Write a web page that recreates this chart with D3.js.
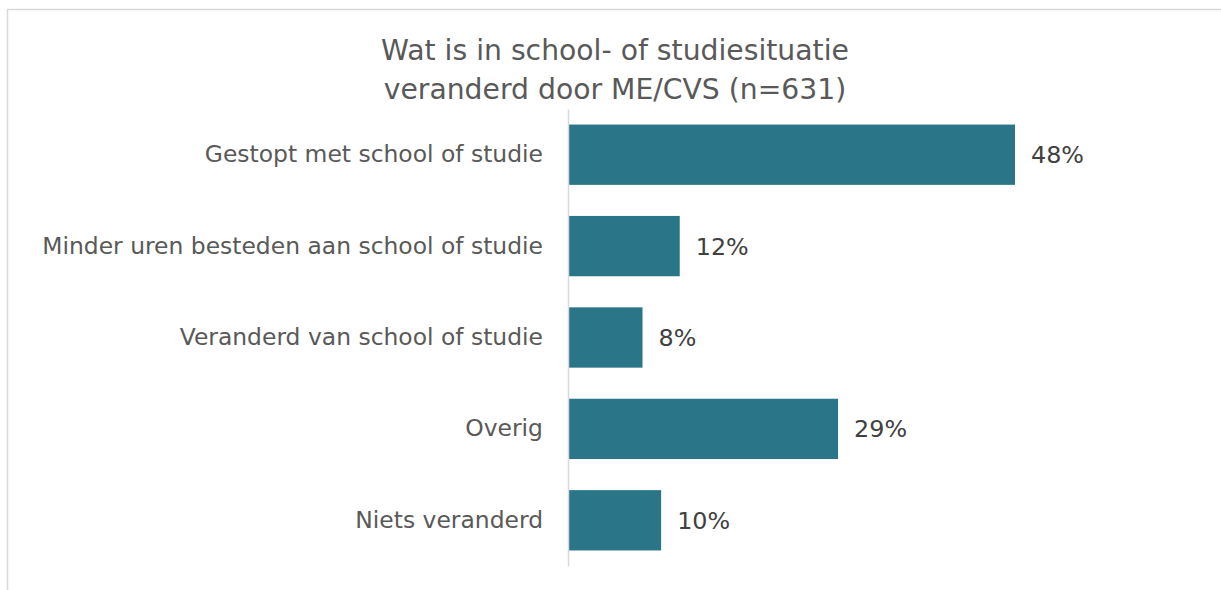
<!DOCTYPE html>
<html><head><meta charset="utf-8">
<script src="https://cdn.jsdelivr.net/npm/d3@7"></script>
<style>body{margin:0;background:#fff}svg{display:block}</style>
</head><body>
<script>
const categories = ["Gestopt met school of studie","Minder uren besteden aan school of studie","Veranderd van school of studie","Overig","Niets veranderd"];
const values = [48, 12, 8, 29, 10];
const titleLines = ["Wat is in school- of studiesituatie","veranderd door ME/CVS (n=631)"];

const W = 1221, H = 590;
const font = "'DejaVu Sans',sans-serif";
const svg = d3.select("body").append("svg").attr("width", W).attr("height", H);
svg.append("rect").attr("x",7.5).attr("y",9.5).attr("width",W+10).attr("height",H+10)
  .attr("fill","#fff").attr("stroke","#d9d9d9").attr("stroke-width",1.5);

function fit(sel, base, target){
  sel.attr("font-size", base);
  const w = sel.node().getComputedTextLength();
  return base * target / w;
}

const x = d3.scaleLinear().domain([0, 48]).range([568, 1015]);
const y = d3.scaleBand().domain(categories).range([109, 566]).paddingInner(0.34).paddingOuter(0.17);

svg.selectAll("rect.bar").data(values).join("rect").attr("class","bar")
  .attr("x", x(0)).attr("y",(d,i)=>y(categories[i])).attr("width",d=>x(d)-x(0)).attr("height",y.bandwidth())
  .attr("fill","#2b7589");

const yAxis = svg.append("g").attr("transform",`translate(${x(0)},0)`).call(d3.axisLeft(y).tickSize(0).tickPadding(25));
yAxis.select(".domain").attr("stroke","#d9d9d9").attr("stroke-width",1.5);
yAxis.selectAll("text").attr("font-family",font).attr("fill","#595959");
const labFs = fit(yAxis.selectAll("text").filter(d=>d===categories[1]), 22, 501);
yAxis.selectAll("text").attr("font-size",labFs);

const vals = svg.selectAll("text.val").data(values).join("text").attr("class","val")
  .attr("x",d=>x(d)+16).attr("y",(d,i)=>y(categories[i])+y.bandwidth()/2).attr("dy","0.36em")
  .attr("font-family",font).attr("fill","#404040").text(d=>d+"%");
const valFs = fit(vals.filter((d,i)=>i===0), 22, 53);
vals.attr("font-size",valFs);

const titles = svg.selectAll("text.title").data(titleLines).join("text").attr("class","title")
  .attr("x",615).attr("y",(d,i)=>60+i*39).attr("text-anchor","middle")
  .attr("font-family",font).attr("fill","#595959").text(d=>d);
const tFs = fit(titles.filter((d,i)=>i===0), 28, 468);
titles.attr("font-size",tFs);
</script>
</body></html>
